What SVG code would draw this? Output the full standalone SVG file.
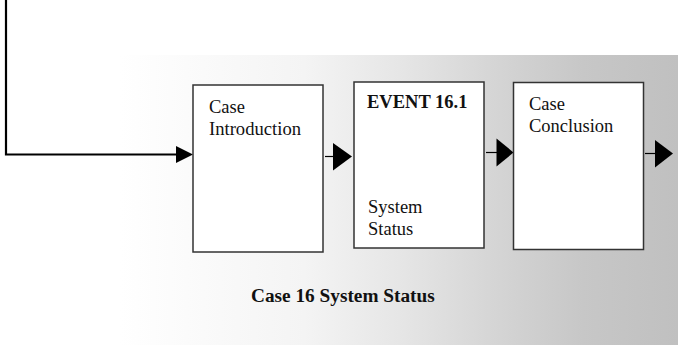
<svg xmlns="http://www.w3.org/2000/svg" width="678" height="345" viewBox="0 0 678 345">
<defs>
<linearGradient id="bg" x1="0" y1="0" x2="1" y2="0">
<stop offset="0" stop-color="#ffffff"/>
<stop offset="0.33" stop-color="#f4f4f4"/>
<stop offset="0.5" stop-color="#e6e6e6"/>
<stop offset="0.67" stop-color="#d5d5d5"/>
<stop offset="0.83" stop-color="#c7c7c7"/>
<stop offset="1" stop-color="#c0c0c0"/>
</linearGradient>
<style>
.box{fill:#ffffff;stroke:#333333;stroke-width:1.5}
.t{font-family:"Liberation Serif","Times New Roman",serif;font-size:18.5px;fill:#111111}
.b{font-family:"Liberation Serif","Times New Roman",serif;font-size:18.5px;font-weight:bold;fill:#111111}
.ln{stroke:#000000;fill:none}
.ah{fill:#000000}
</style>
</defs>
<rect x="120" y="55" width="558" height="290" fill="url(#bg)"/>
<g id="connectors">
<polyline class="ln" stroke-width="2.2" points="6,0 6,154.5 177,154.5"/>
<polygon class="ah" points="176,146 193,154.5 176,163"/>
<line class="ln" stroke-width="1.2" x1="325" y1="156.5" x2="334" y2="156.5"/>
<polygon class="ah" points="333,143 352,156.5 333,170.5"/>
<line class="ln" stroke-width="1.2" x1="486" y1="152.5" x2="497" y2="152.5"/>
<polygon class="ah" points="496.5,138.5 513.5,152.5 496.5,166.5"/>
<line class="ln" stroke-width="1.2" x1="645" y1="153.5" x2="656" y2="153.5"/>
<polygon class="ah" points="655,140 673,153.5 655,167.5"/>
</g>
<g id="case-introduction">
<rect class="box" x="193" y="85" width="130" height="167"/>
<text class="t" x="209" y="113">Case</text>
<text class="t" x="209" y="135" textLength="92" lengthAdjust="spacingAndGlyphs">Introduction</text>
</g>
<g id="event-16-1">
<rect class="box" x="354" y="82" width="130" height="166"/>
<text class="b" x="367" y="108">EVENT 16.1</text>
<text class="t" x="368" y="213">System</text>
<text class="t" x="368" y="235">Status</text>
</g>
<g id="case-conclusion">
<rect class="box" x="513.5" y="82.5" width="130" height="167"/>
<text class="t" x="529" y="110">Case</text>
<text class="t" x="529" y="132">Conclusion</text>
</g>
<text class="b" x="251" y="302" style="font-size:19.3px">Case 16 System Status</text>
</svg>
